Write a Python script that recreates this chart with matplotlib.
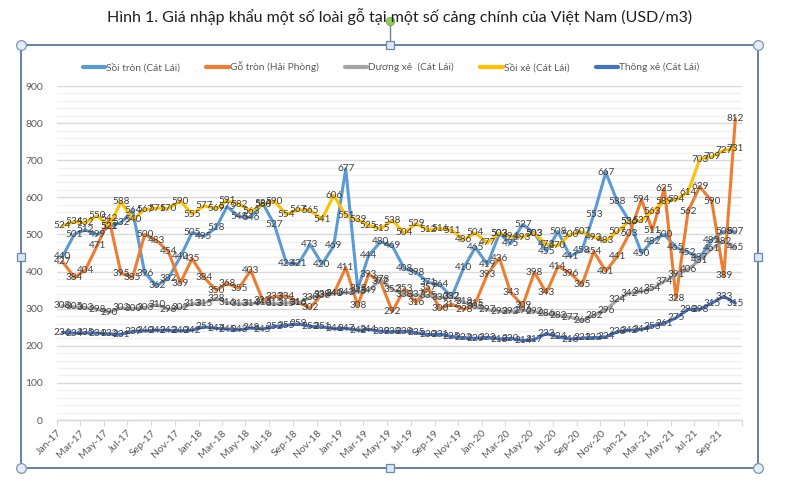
import matplotlib
matplotlib.use('Agg')
import matplotlib.pyplot as plt
from matplotlib.lines import Line2D
import pandas as pd

plt.rcParams['font.family'] = ['Lato', 'Noto Sans', 'DejaVu Sans']

title = 'Hình 1. Giá nhập khẩu một số loài gỗ tại một số cảng chính của Việt Nam (USD/m3)'

# monthly data, Jan-17 .. Oct-21
months = pd.date_range('2017-01-01', periods=58, freq='MS') + pd.Timedelta(days=14)

soi_tron = [440, 501, 512, 499, 521, 532, 564, 396, 362, 382, 440, 505, 495, 518, 575,
            548, 546, 584, 527, 423, 421, 473, 420, 469, 677, 353, 444, 480, 469, 408,
            398, 371, 364, 332, 410, 465, 419, 503, 475, 527, 503, 455, 508, 441, 458,
            553, 667, 588, 536, 450, 482, 500, 465, 452, 437, 485, 508, 507]
go_tron = [427, 384, 404, 471, 542, 395, 385, 500, 483, 454, 369, 435, 384, 350, 368,
           355, 403, 323, 333, 334, 316, 302, 339, 340, 411, 308, 393, 372, 292, 353,
           316, 357, 300, 312, 298, 315, 393, 436, 343, 309, 398, 343, 414, 396, 365,
           454, 401, 441, 503, 594, 511, 625, 328, 562, 629, 590, 389, 812]
duong_xe = [308, 305, 303, 298, 290, 302, 300, 303, 310, 298, 302, 313, 315, 328, 316,
            313, 314, 316, 313, 315, 316, 330, 336, 341, 343, 345, 349, 378, 352, 338,
            337, 335, 330, 332, 318, 305, 297, 293, 292, 296, 292, 286, 282, 277, 268,
            282, 296, 324, 342, 346, 354, 374, 391, 406, 431, 461, 482, 465]
soi_xe = [524, 534, 532, 550, 522, 588, 540, 567, 571, 570, 590, 555, 577, 569, 591,
          582, 563, 580, 590, 554, 567, 565, 541, 606, 551, 539, 525, 515, 538, 504,
          529, 512, 516, 511, 486, 504, 477, 503, 494, 493, 503, 473, 470, 500, 507,
          493, 483, 507, 536, 537, 563, 589, 594, 614, 703, 709, 727, 731]
thong_xe = [236, 234, 235, 234, 232, 231, 239, 240, 242, 242, 240, 242, 251, 247, 245,
            243, 248, 245, 252, 255, 259, 252, 251, 246, 247, 242, 244, 239, 238, 239,
            235, 230, 231, 225, 222, 220, 223, 218, 220, 214, 217, 233, 224, 218, 221,
            222, 224, 238, 242, 244, 253, 261, 275, 298, 298, 315, 333, 315]

series = [
    ('Sồi tròn (Cát Lái)', soi_tron, '#5B9BD5'),
    ('Gỗ tròn (Hải Phòng)', go_tron, '#ED7D31'),
    ('Dương xẻ  (Cát Lái)', duong_xe, '#A5A5A5'),
    ('Sồi xẻ (Cát Lái)', soi_xe, '#FFC000'),
    ('Thông xẻ (Cát Lái)', thong_xe, '#4472C4'),
]

W, H = 786, 487
fig = plt.figure(figsize=(W / 100, H / 100), dpi=100)
ax = fig.add_axes([57 / W, 1 - 420 / H, (742 - 57) / W, (420 - 86) / H])

for name, vals, col in series:
    ax.plot(months, vals, color=col, lw=2.2, label=name, solid_capstyle='round',
            solid_joinstyle='round')

# data labels on top of every line
for name, vals, col in series:
    for d, v in zip(months, vals):
        ax.text(d, v, str(v), ha='center', va='center', fontsize=7.2,
                color='#404040', zorder=10)

# axes
ticks = pd.date_range('2017-01-01', '2021-11-01', freq='2MS')
tick_labels = [t.strftime('%b-%y') for t in ticks[:-1]] + ['']
ax.set_xlim(ticks[0], ticks[-1])
ax.set_xticks(ticks)
ax.set_xticklabels(tick_labels, rotation=45, ha='right', rotation_mode='anchor',
                   fontsize=7.5, color='#595959')
ax.set_ylim(0, 900)
ax.set_yticks(range(0, 1000, 100))
ax.set_yticks(range(0, 900, 20), minor=True)
ax.tick_params(axis='y', length=0, labelsize=7.5, labelcolor='#595959', pad=10,
               which='both')
ax.tick_params(axis='x', length=4, color='#d9d9d9', pad=2)
ax.grid(axis='y', which='major', color='#d9d9d9', lw=1.0)
ax.grid(axis='y', which='minor', color='#f0f0f0', lw=1.0)
ax.set_axisbelow(True)
for s in ['left', 'right', 'top']:
    ax.spines[s].set_visible(False)
ax.spines['bottom'].set_color('#d9d9d9')
ax.spines['bottom'].set_linewidth(1.0)

fig.legend(loc='center', bbox_to_anchor=(391 / W, 1 - 67 / H), ncol=5,
           frameon=False, fontsize=7.3, labelcolor='#595959', handlelength=2.2,
           handletextpad=0.1, columnspacing=2.6)
for lh in fig.legends[0].get_lines():
    lh.set_linewidth(3)

fig.text(400 / W, 1 - 17 / H, title, ha='center', va='center', fontsize=11.5,
         color='#1f1f1f')

# Word selection frame around the chart
def fx(x):
    return x / W

def fy(y):
    return 1 - y / H

L, R, T, B = 21, 758, 45, 468
frame_col = '#4a6a99'
fig.add_artist(Line2D([fx(L), fx(R), fx(R), fx(L), fx(L)],
                      [fy(T), fy(T), fy(B), fy(B), fy(T)],
                      transform=fig.transFigure, color=frame_col, lw=1.2))
fig.add_artist(Line2D([fx(390), fx(390)], [fy(22), fy(T)],
                      transform=fig.transFigure, color='#7f7f7f', lw=1.0))
for x, y in [(L, T), (R, T), (L, B), (R, B)]:
    fig.add_artist(Line2D([fx(x)], [fy(y)], transform=fig.transFigure, marker='o',
                          markersize=7, markerfacecolor='#e4edf5',
                          markeredgecolor='#7f93ad', markeredgewidth=0.9))
for x, y in [(390, T), (390, B), (L, 257), (R, 257)]:
    fig.add_artist(Line2D([fx(x)], [fy(y)], transform=fig.transFigure, marker='s',
                          markersize=5.5, markerfacecolor='#dce8f5',
                          markeredgecolor='#6f88a8', markeredgewidth=0.9))
fig.add_artist(Line2D([fx(390)], [fy(21)], transform=fig.transFigure, marker='o',
                      markersize=6, markerfacecolor='#92d050',
                      markeredgecolor='#6aa84f', markeredgewidth=0.6))

fig.savefig('out.png', dpi=100)
